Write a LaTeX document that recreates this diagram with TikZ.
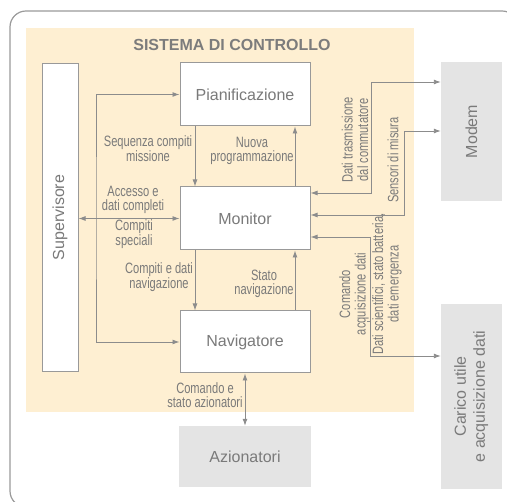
\documentclass[tikz,border=0pt]{standalone}
\usepackage{fontspec}
\setmainfont{Liberation Sans}
\newfontfamily\narrowfont[FakeStretch=0.74]{Liberation Sans}
\usetikzlibrary{arrows.meta}
\definecolor{cream}{HTML}{FEEFD2}
\definecolor{boxgray}{HTML}{E4E4E4}
\definecolor{linegray}{HTML}{8C8C8C}
\definecolor{bordergray}{HTML}{999999}
\definecolor{framegray}{HTML}{9A9A9A}
\definecolor{textgray}{HTML}{7A7A7A}
\definecolor{titlegray}{HTML}{7C7C7C}
\begin{document}
\begin{tikzpicture}[x=1pt,y=-1pt,
  >={Latex[length=7pt,width=5pt]},
  conn/.style={draw=linegray, line width=0.9pt},
  wbox/.style={draw=bordergray, fill=white, line width=1pt, inner sep=0pt, text=textgray, font=\fontsize{16}{19}\selectfont},
  gbox/.style={fill=boxgray, inner sep=0pt, text=textgray, font=\fontsize{16}{19}\selectfont},
  lbl/.style={inner sep=0pt, text=textgray, align=center, font=\narrowfont\fontsize{15}{13.5}\selectfont},
  rlbl/.style={lbl, rotate=90, font=\narrowfont\fontsize{15}{15.5}\selectfont},
]
\useasboundingbox (0,0) rectangle (507,502);
\draw[draw=framegray, line width=1.2pt, rounded corners=16pt] (10,11) rectangle (518,507);
\fill[cream] (26,28) rectangle (414,412);
\node[text=titlegray, font=\bfseries\fontsize{16}{19}\selectfont] (title) at (232,45) {SISTEMA DI CONTROLLO};

\node[wbox, minimum width=36pt, minimum height=308pt] (sup) at (60,217.5) {\rotatebox{90}{Supervisore}};
\node[wbox, minimum width=130pt, minimum height=63pt] (pian) at (245,94.5) {Pianificazione};
\node[wbox, minimum width=130pt, minimum height=63pt] (mon) at (245,218.5) {Monitor};
\node[wbox, minimum width=130pt, minimum height=62pt] (nav) at (245,342) {Navigatore};
\node[gbox, minimum width=132pt, minimum height=61pt] (az) at (245,456.5) {Azionatori};
\node[gbox, minimum width=61pt, minimum height=139pt] (modem) at (471.5,131.5) {\rotatebox{90}{Modem}};
\node[gbox, minimum width=61pt, minimum height=185pt] (carico) at (471.5,396.5) {\rotatebox{90}{\begin{tabular}{@{}c@{}}Carico utile\\e acquisizione dati\end{tabular}}};

\coordinate (bx) at (96,218);
\coordinate (r1) at (371,82);
\coordinate (r2) at (404,131);
\coordinate (r3) at (370,356);
\coordinate (tk) at (367,321);

\draw[conn,<->] (sup.east |- mon.west) -- (mon.west);
\draw[conn,<->] (pian.west) -| (bx) |- (nav.west);
\draw[conn,->] ([xshift=-50pt]pian.south) -- ([xshift=-50pt]mon.north);
\draw[conn,->] ([xshift=50pt]mon.north) -- ([xshift=50pt]pian.south);
\draw[conn,->] ([xshift=-50pt]mon.south) -- ([xshift=-50pt]nav.north);
\draw[conn,->] ([xshift=50pt]nav.north) -- ([xshift=50pt]mon.south);
\draw[conn,<->] (nav.south) -- (az.north);
\draw[conn,<->] (mon.east |- 0,193) -| (r1) -- (modem.west |- r1);
\draw[conn,<->] (mon.east |- 0,215) -| (r2) -- (modem.west |- r2);
\draw[conn,<->] (mon.east |- 0,237) -| (r3) -- (carico.west |- r3);
\draw[conn] (tk) -- (tk -| r3);

\node[lbl] (l1) at (148,149) {Sequenza compiti\\missione};
\node[lbl] (l2) at (252,151) {Nuova\\programmazione};
\node[lbl] (l3) at (133,200) {Accesso e\\dati completi};
\node[lbl] (l4) at (134,234) {Compiti\\speciali};
\node[lbl] (l5) at (159,277) {Compiti e dati\\navigazione};
\node[lbl] (l6) at (264,284) {Stato\\navigazione};
\node[lbl] (l7) at (205,395) {Comando e\\stato azionatori};
\node[rlbl] (l8) at (355,140) {Dati trasmissione\\dal commutatore};
\node[rlbl] (l9) at (393,160) {Sensori di misura};
\node[rlbl] (l10) at (354,294) {Comando\\acquisizione dati};
\node[rlbl] (l11) at (387,284) {Dati scientifici, stato batteria,\\dati emergenza};
\end{tikzpicture}
\end{document}
